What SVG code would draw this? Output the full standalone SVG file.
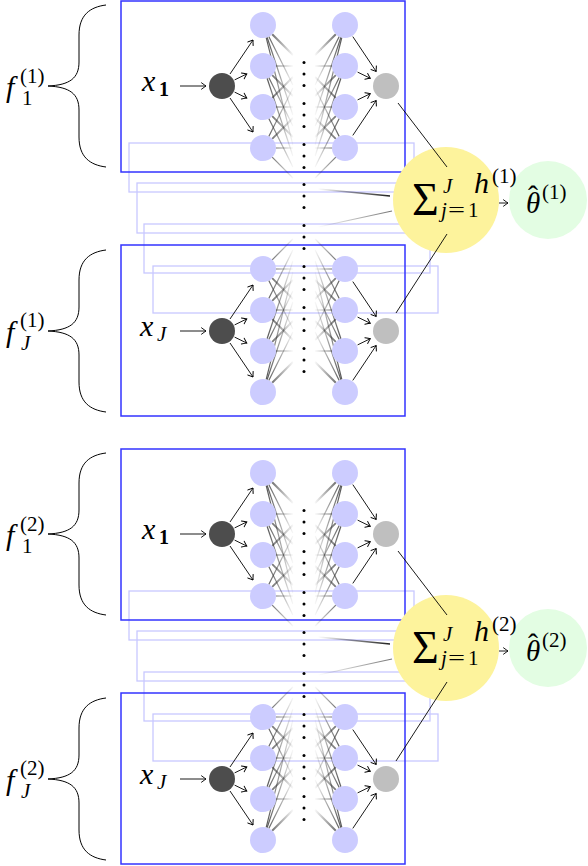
<svg xmlns="http://www.w3.org/2000/svg" width="588" height="866" viewBox="0 0 588 866">
<defs>
<style>
.frame{fill:none;stroke:#3333ff;stroke-width:1.5}
.ghost{fill:none;stroke:#c8c8ff;stroke-width:1.3}
.hid{fill:#ccccff}
.in{fill:#4d4d4d}
.out{fill:#bfbfbf}
.sum{fill:#fdf39c}
.est{fill:#e3fde3}
.arr{stroke:#000;stroke-width:0.9;fill:none;marker-end:url(#to)}
.ln{stroke:#000;stroke-width:0.9;fill:none}
.brace{fill:none;stroke:#000;stroke-width:1}
.m{font-family:"Liberation Serif",serif;font-size:30px;font-style:italic}
.th{font-family:"Liberation Serif",serif;font-size:29px;font-style:italic}
.hat{font-family:"Liberation Serif",serif;font-size:30px}
.s{font-family:"Liberation Serif",serif;font-size:21px}
.si{font-family:"Liberation Serif",serif;font-size:21px;font-style:italic}
.sb{font-family:"Liberation Serif",serif;font-size:20px;font-weight:bold}
.big{font-family:"Liberation Serif",serif;font-size:46px}
</style>
<linearGradient id="fadeR" gradientUnits="userSpaceOnUse" x1="268" y1="0" x2="294" y2="0">
<stop offset="0" stop-color="#333" stop-opacity="0.8"/>
<stop offset="0.6" stop-color="#333" stop-opacity="0.35"/>
<stop offset="1" stop-color="#333" stop-opacity="0"/>
</linearGradient>
<linearGradient id="fadeIn" gradientUnits="userSpaceOnUse" x1="318" y1="0" x2="392" y2="0">
<stop offset="0" stop-color="#000" stop-opacity="0"/>
<stop offset="1" stop-color="#000" stop-opacity="0.9"/>
</linearGradient>
<marker id="to" viewBox="-6 -5 7 10" refX="0" refY="0" markerWidth="7" markerHeight="10" markerUnits="userSpaceOnUse" orient="auto" overflow="visible">
<path d="M-4.5,-3.2 Q-1.2,-0.8 0,0 Q-1.2,0.8 -4.5,3.2" fill="none" stroke="#000" stroke-width="0.9" stroke-linecap="round"/>
</marker>
<g id="fan" stroke="url(#fadeR)" stroke-width="1.2" fill="none">
<line x1="272.2" y1="34.2" x2="293" y2="55" stroke-width="2"/>
<line x1="268.8" y1="36.6" x2="293" y2="85"/>
<line x1="267.1" y1="37.3" x2="293" y2="115"/>
<line x1="266.2" y1="37.6" x2="293" y2="145"/>
<line x1="276" y1="66" x2="293" y2="66"/>
<line x1="272.2" y1="75.2" x2="293" y2="96" stroke-width="1.8"/>
<line x1="268.8" y1="77.6" x2="293" y2="126"/>
<line x1="267.1" y1="78.3" x2="293" y2="156"/>
<line x1="272.2" y1="97.8" x2="293" y2="77" stroke-width="1.8"/>
<line x1="276" y1="107" x2="293" y2="107"/>
<line x1="272.2" y1="116.2" x2="293" y2="137" stroke-width="1.8"/>
<line x1="268.8" y1="118.6" x2="293" y2="167"/>
<line x1="268.8" y1="136.4" x2="293" y2="88"/>
<line x1="272.2" y1="138.8" x2="293" y2="118" stroke-width="1.8"/>
<line x1="276" y1="148" x2="293" y2="148"/>
<line x1="272.2" y1="157.2" x2="293" y2="178"/>
</g>
<g id="netArrows">
<line class="arr" x1="180" y1="86" x2="206" y2="86"/>
<line class="arr" x1="230" y1="74" x2="253" y2="40"/>
<line class="arr" x1="234.6" y1="79.9" x2="246.8" y2="73.9"/>
<line class="arr" x1="234.6" y1="92.1" x2="246.8" y2="98.1"/>
<line class="arr" x1="230" y1="98" x2="253" y2="132"/>
<line class="arr" x1="352.8" y1="36.6" x2="376.2" y2="71.5"/>
<line class="arr" x1="357.6" y1="72.1" x2="370.3" y2="78.3"/>
<line class="arr" x1="357.6" y1="99.9" x2="370.3" y2="93.7"/>
<line class="arr" x1="352.8" y1="135.4" x2="376.2" y2="100.5"/>
</g>
<g id="d3" fill="#000">
<circle cx="304" cy="-11.5" r="1.5"/>
<circle cx="304" cy="0" r="1.5"/>
<circle cx="304" cy="11.5" r="1.5"/>
</g>
</defs>

<g id="ghost-frames">
<rect class="ghost" x="129" y="143" width="285" height="49"/>
<rect class="ghost" x="137" y="183" width="285" height="50"/>
<rect class="ghost" x="144" y="224" width="286" height="49"/>
<rect class="ghost" x="153" y="266" width="285" height="47"/>
<rect class="ghost" x="129" y="591" width="285" height="49"/>
<rect class="ghost" x="137" y="631" width="285" height="50"/>
<rect class="ghost" x="144" y="672" width="286" height="49"/>
<rect class="ghost" x="153" y="714" width="285" height="47"/>
</g>

<g id="frames">
<rect class="frame" x="121" y="1" width="284" height="171"/>
<rect class="frame" x="121" y="245" width="284" height="171"/>
<rect class="frame" x="121" y="449" width="284" height="171"/>
<rect class="frame" x="121" y="693" width="284" height="171"/>
</g>

<g id="braces">
<path class="brace" d="M106,5 C90,7 79,15 79,35 L79,62 C79,78 70,85 48,86 C70,87 79,94 79,110 L79,137 C79,157 90,165 106,167"/>
<path class="brace" d="M106,250 C90,252 79,260 79,280 L79,307 C79,323 70,330 48,331 C70,332 79,339 79,355 L79,382 C79,402 90,410 106,412"/>
<path class="brace" d="M106,453 C90,455 79,463 79,483 L79,510 C79,526 70,533 48,534 C70,535 79,542 79,558 L79,585 C79,605 90,613 106,615"/>
<path class="brace" d="M106,698 C90,700 79,708 79,728 L79,755 C79,771 70,778 48,779 C70,780 79,787 79,803 L79,830 C79,850 90,858 106,860"/>
</g>

<g id="sum1"><circle class="sum" cx="446" cy="200" r="53"/></g>
<g id="theta1"><circle class="est" cx="548" cy="200" r="39"/></g>
<g id="sum2"><circle class="sum" cx="446" cy="648" r="53"/></g>
<g id="theta2"><circle class="est" cx="548" cy="648" r="39"/></g>

<g id="connectors">
<use href="#fan"/>
<use href="#fan" transform="matrix(-1,0,0,1,608,0)"/>
<use href="#fan" transform="matrix(1,0,0,-1,0,417)"/>
<use href="#fan" transform="matrix(-1,0,0,-1,608,417)"/>
<use href="#fan" transform="matrix(1,0,0,1,0,448)"/>
<use href="#fan" transform="matrix(-1,0,0,1,608,448)"/>
<use href="#fan" transform="matrix(1,0,0,-1,0,865)"/>
<use href="#fan" transform="matrix(-1,0,0,-1,608,865)"/>
<use href="#netArrows"/>
<use href="#netArrows" transform="matrix(1,0,0,-1,0,417)"/>
<use href="#netArrows" transform="matrix(1,0,0,1,0,448)"/>
<use href="#netArrows" transform="matrix(1,0,0,-1,0,865)"/>
<line class="ln" x1="398" y1="103" x2="447" y2="167"/>
<line class="ln" x1="396" y1="313" x2="447" y2="234"/>
<line class="ln" x1="398" y1="551" x2="447" y2="615"/>
<line class="ln" x1="396" y1="761" x2="447" y2="682"/>
<line x1="318" y1="189" x2="390" y2="196" stroke="url(#fadeIn)" stroke-width="1.4"/>
<line x1="318" y1="227" x2="392" y2="211" stroke="url(#fadeIn)" stroke-width="1.1" stroke-opacity="0.6"/>
<line x1="318" y1="637" x2="390" y2="644" stroke="url(#fadeIn)" stroke-width="1.4"/>
<line x1="318" y1="675" x2="392" y2="659" stroke="url(#fadeIn)" stroke-width="1.1" stroke-opacity="0.6"/>
<line class="arr" x1="499" y1="203" x2="508" y2="203"/>
<line class="arr" x1="499" y1="651" x2="508" y2="651"/>
</g>

<g id="net1">
<circle id="n1-in" class="in" cx="222" cy="86" r="13"/>
<circle id="n1-a1" class="hid" cx="263" cy="25" r="13"/>
<circle id="n1-a2" class="hid" cx="263" cy="66" r="13"/>
<circle id="n1-a3" class="hid" cx="263" cy="107" r="13"/>
<circle id="n1-a4" class="hid" cx="263" cy="148" r="13"/>
<circle id="n1-b1" class="hid" cx="345" cy="25" r="13"/>
<circle id="n1-b2" class="hid" cx="345" cy="66" r="13"/>
<circle id="n1-b3" class="hid" cx="345" cy="107" r="13"/>
<circle id="n1-b4" class="hid" cx="345" cy="148" r="13"/>
<circle id="n1-out" class="out" cx="386" cy="86" r="13"/>
</g>
<g id="net2">
<circle id="n2-in" class="in" cx="222" cy="331" r="13"/>
<circle id="n2-a1" class="hid" cx="263" cy="269" r="13"/>
<circle id="n2-a2" class="hid" cx="263" cy="310" r="13"/>
<circle id="n2-a3" class="hid" cx="263" cy="351" r="13"/>
<circle id="n2-a4" class="hid" cx="263" cy="392" r="13"/>
<circle id="n2-b1" class="hid" cx="345" cy="269" r="13"/>
<circle id="n2-b2" class="hid" cx="345" cy="310" r="13"/>
<circle id="n2-b3" class="hid" cx="345" cy="351" r="13"/>
<circle id="n2-b4" class="hid" cx="345" cy="392" r="13"/>
<circle id="n2-out" class="out" cx="386" cy="331" r="13"/>
</g>
<g id="net3">
<circle id="n3-in" class="in" cx="222" cy="534" r="13"/>
<circle id="n3-a1" class="hid" cx="263" cy="473" r="13"/>
<circle id="n3-a2" class="hid" cx="263" cy="514" r="13"/>
<circle id="n3-a3" class="hid" cx="263" cy="555" r="13"/>
<circle id="n3-a4" class="hid" cx="263" cy="596" r="13"/>
<circle id="n3-b1" class="hid" cx="345" cy="473" r="13"/>
<circle id="n3-b2" class="hid" cx="345" cy="514" r="13"/>
<circle id="n3-b3" class="hid" cx="345" cy="555" r="13"/>
<circle id="n3-b4" class="hid" cx="345" cy="596" r="13"/>
<circle id="n3-out" class="out" cx="386" cy="534" r="13"/>
</g>
<g id="net4">
<circle id="n4-in" class="in" cx="222" cy="779" r="13"/>
<circle id="n4-a1" class="hid" cx="263" cy="717" r="13"/>
<circle id="n4-a2" class="hid" cx="263" cy="758" r="13"/>
<circle id="n4-a3" class="hid" cx="263" cy="799" r="13"/>
<circle id="n4-a4" class="hid" cx="263" cy="840" r="13"/>
<circle id="n4-b1" class="hid" cx="345" cy="717" r="13"/>
<circle id="n4-b2" class="hid" cx="345" cy="758" r="13"/>
<circle id="n4-b3" class="hid" cx="345" cy="799" r="13"/>
<circle id="n4-b4" class="hid" cx="345" cy="840" r="13"/>
<circle id="n4-out" class="out" cx="386" cy="779" r="13"/>
</g>

<g id="dots">
<use href="#d3" y="74"/><use href="#d3" y="115"/><use href="#d3" y="156"/><use href="#d3" y="196"/>
<use href="#d3" y="237"/><use href="#d3" y="278"/><use href="#d3" y="319"/><use href="#d3" y="360"/>
<use href="#d3" y="522"/><use href="#d3" y="563"/><use href="#d3" y="604"/><use href="#d3" y="644"/>
<use href="#d3" y="685"/><use href="#d3" y="726"/><use href="#d3" y="767"/><use href="#d3" y="808"/>
</g>

<g id="labels">
<text class="m" x="6" y="97">f</text><text class="s" x="22" y="105">1</text><text class="s" x="20" y="83">(1)</text>
<text class="m" x="6" y="342">f</text><text class="si" x="21" y="350">J</text><text class="s" x="20" y="327">(1)</text>
<text class="m" x="6" y="545">f</text><text class="s" x="22" y="553">1</text><text class="s" x="20" y="531">(2)</text>
<text class="m" x="6" y="790">f</text><text class="si" x="21" y="798">J</text><text class="s" x="20" y="775">(2)</text>

<text class="m" x="142" y="91">x</text><text class="sb" x="159" y="96">1</text>
<text class="m" x="140" y="336">x</text><text class="si" x="157" y="341">J</text>
<text class="m" x="142" y="539">x</text><text class="sb" x="159" y="544">1</text>
<text class="m" x="140" y="784">x</text><text class="si" x="157" y="789">J</text>

<text class="big" x="412" y="215">Σ</text>
<text class="si" x="443" y="193">J</text>
<text class="si" x="441" y="217">j</text>
<text class="s" x="448" y="217" textLength="17" lengthAdjust="spacingAndGlyphs">=</text>
<text class="s" x="468" y="217">1</text>
<text class="m" x="474" y="193">h</text><text class="s" x="492" y="183">(1)</text>
<text class="th" x="526" y="213">θ</text>
<text class="hat" x="528" y="206">ˆ</text>
<text class="s" x="542" y="199">(1)</text>

<text class="big" x="412" y="663">Σ</text>
<text class="si" x="443" y="641">J</text>
<text class="si" x="441" y="665">j</text>
<text class="s" x="448" y="665" textLength="17" lengthAdjust="spacingAndGlyphs">=</text>
<text class="s" x="468" y="665">1</text>
<text class="m" x="474" y="641">h</text><text class="s" x="492" y="631">(2)</text>
<text class="th" x="526" y="661">θ</text>
<text class="hat" x="528" y="654">ˆ</text>
<text class="s" x="542" y="647">(2)</text>
</g>
</svg>
